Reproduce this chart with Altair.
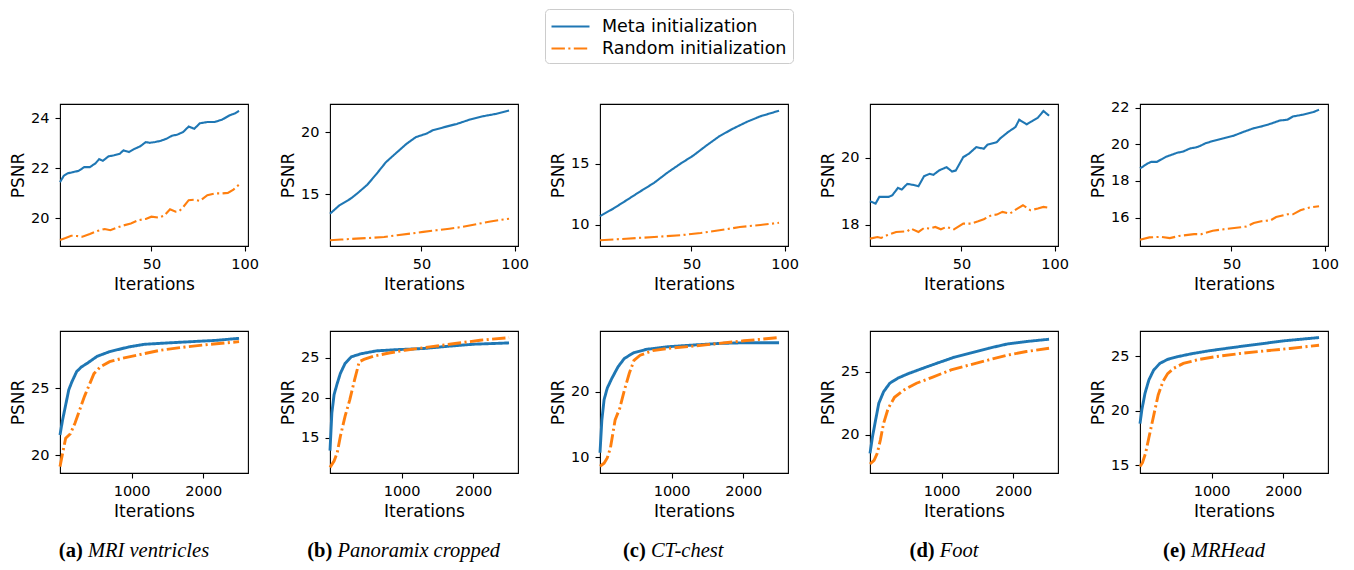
import altair as alt
import pandas as pd

SERIES = ["Meta initialization", "Random initialization"]
COLORS = ["#1f77b4", "#ff7f0e"]
DASHES = [[1, 0], [13.4, 3.4, 2.1, 3.4]]

# ---------------- top row: first 100 iterations ----------------
a1_meta_x = [1, 3, 5, 8, 11, 14, 17, 20, 22, 24, 27, 30, 33, 35, 38, 41, 44, 47, 49, 52, 55, 58, 61, 64, 67, 70, 73, 76, 80, 84, 88, 92, 95, 97]
a1_meta_y = [21.45, 21.7, 21.8, 21.85, 21.9, 22.05, 22.05, 22.2, 22.37, 22.3, 22.48, 22.52, 22.58, 22.72, 22.65, 22.78, 22.88, 23.05, 23.02, 23.05, 23.1, 23.18, 23.3, 23.35, 23.45, 23.67, 23.58, 23.8, 23.85, 23.85, 23.95, 24.12, 24.2, 24.3]
a1_rand_x = [1, 4, 7, 10, 13, 17, 21, 25, 28, 31, 35, 39, 43, 47, 50, 54, 57, 60, 63, 65, 67, 70, 73, 76, 80, 84, 88, 91, 94, 97]
a1_rand_y = [19.14, 19.22, 19.31, 19.3, 19.27, 19.38, 19.5, 19.58, 19.53, 19.62, 19.72, 19.8, 19.93, 19.98, 20.07, 20.03, 20.12, 20.37, 20.27, 20.3, 20.45, 20.73, 20.75, 20.7, 20.93, 21.0, 21.0, 21.02, 21.15, 21.35]

b1_meta_x = [1, 6, 12, 16, 21, 26, 31, 37, 42, 47, 53, 56, 62, 69, 76, 83, 90, 97]
b1_meta_y = [13.41, 14.08, 14.62, 15.1, 15.75, 16.64, 17.58, 18.39, 19.06, 19.6, 19.9, 20.15, 20.4, 20.67, 21.02, 21.29, 21.48, 21.75]
b1_rand_x = [1, 7, 15, 22, 30, 37, 44, 51, 58, 65, 72, 80, 87, 94, 97]
b1_rand_y = [11.26, 11.32, 11.4, 11.45, 11.53, 11.67, 11.8, 11.94, 12.07, 12.2, 12.34, 12.58, 12.78, 12.94, 13.0]

c1_meta_x = [1, 8, 15, 22, 30, 37, 44, 51, 58, 65, 72, 80, 87, 94, 97]
c1_meta_y = [10.71, 11.31, 11.99, 12.68, 13.44, 14.26, 15.0, 15.68, 16.5, 17.27, 17.87, 18.47, 18.91, 19.23, 19.37]
c1_rand_x = [1, 15, 30, 44, 55, 65, 76, 87, 94, 97]
c1_rand_y = [8.72, 8.85, 8.99, 9.13, 9.32, 9.54, 9.81, 9.98, 10.1, 10.16]

d1_meta_x = [1, 4, 6, 11, 13, 16, 18, 21, 24, 27, 30, 33, 35, 38, 42, 45, 47, 51, 54, 58, 62, 64, 69, 71, 75, 79, 81, 85, 88, 91, 94, 97]
d1_meta_y = [18.7, 18.63, 18.83, 18.83, 18.88, 19.1, 19.05, 19.22, 19.19, 19.15, 19.45, 19.52, 19.49, 19.62, 19.72, 19.59, 19.62, 20.02, 20.12, 20.32, 20.27, 20.39, 20.47, 20.59, 20.77, 20.92, 21.14, 21.0, 21.1, 21.2, 21.4, 21.26]
d1_rand_x = [1, 5, 7, 10, 15, 21, 23, 27, 30, 33, 36, 39, 42, 46, 51, 55, 59, 62, 66, 69, 72, 76, 80, 83, 87, 91, 94, 97]
d1_rand_y = [17.58, 17.63, 17.6, 17.68, 17.78, 17.8, 17.88, 17.78, 17.9, 17.88, 17.93, 17.86, 17.93, 17.86, 18.03, 18.03, 18.1, 18.16, 18.28, 18.3, 18.38, 18.33, 18.48, 18.58, 18.43, 18.48, 18.53, 18.5]

e1_meta_x = [1, 5, 7, 10, 15, 21, 24, 28, 31, 33, 36, 40, 46, 51, 56, 62, 66, 71, 76, 80, 83, 88, 94, 97]
e1_meta_y = [18.68, 18.95, 19.04, 19.04, 19.32, 19.54, 19.6, 19.78, 19.83, 19.9, 20.05, 20.18, 20.33, 20.46, 20.66, 20.88, 20.97, 21.12, 21.3, 21.34, 21.52, 21.61, 21.76, 21.89]
e1_rand_x = [1, 6, 12, 17, 22, 30, 34, 40, 47, 55, 58, 62, 66, 71, 74, 80, 83, 87, 92, 97]
e1_rand_y = [14.79, 14.92, 14.95, 14.88, 15.0, 15.1, 15.1, 15.28, 15.38, 15.47, 15.51, 15.7, 15.8, 15.85, 16.03, 16.18, 16.18, 16.4, 16.55, 16.62]

# ---------------- bottom row: full 2500 iterations ----------------
a2_meta_x = [0, 35, 79, 123, 167, 232, 298, 386, 518, 693, 956, 1175, 1482, 1833, 2184, 2500]
a2_meta_y = [21.5, 22.6, 23.75, 24.9, 25.5, 26.25, 26.6, 26.9, 27.4, 27.75, 28.1, 28.3, 28.4, 28.5, 28.6, 28.75]
a2_rand_x = [0, 35, 79, 145, 210, 276, 342, 408, 474, 561, 693, 868, 1088, 1395, 1746, 2096, 2500]
a2_rand_y = [19.13, 20.1, 21.25, 21.6, 22.4, 23.4, 24.4, 25.25, 26.1, 26.6, 27.0, 27.25, 27.5, 27.85, 28.1, 28.3, 28.5]

b2_meta_x = [0, 26, 57, 101, 145, 211, 298, 430, 649, 956, 1307, 1658, 2009, 2500]
b2_meta_y = [13.4, 18.1, 20.4, 21.8, 23.06, 24.3, 25.12, 25.5, 25.87, 26.03, 26.16, 26.45, 26.7, 26.86]
b2_rand_x = [0, 57, 101, 145, 211, 276, 342, 408, 474, 605, 825, 1044, 1395, 1746, 2096, 2500]
b2_rand_y = [11.3, 12.1, 13.14, 15.2, 17.7, 19.75, 22.2, 24.5, 24.8, 25.2, 25.6, 25.95, 26.36, 26.78, 27.2, 27.52]

c2_meta_x = [0, 26, 57, 101, 167, 254, 342, 474, 649, 956, 1307, 1658, 2009, 2500]
c2_meta_y = [10.7, 15.7, 18.8, 20.56, 22.1, 23.86, 25.13, 25.99, 26.5, 26.9, 27.16, 27.4, 27.5, 27.5]
c2_rand_x = [0, 57, 101, 145, 211, 276, 342, 408, 474, 561, 737, 956, 1307, 1658, 2009, 2500]
c2_rand_y = [8.63, 9.1, 9.9, 11.4, 15.7, 17.5, 20.3, 22.8, 24.8, 25.6, 26.3, 26.65, 27.0, 27.4, 27.8, 28.3]

d2_meta_x = [0, 35, 79, 123, 189, 276, 386, 518, 737, 956, 1175, 1395, 1658, 1921, 2184, 2500]
d2_meta_y = [18.55, 19.87, 21.2, 22.5, 23.4, 24.08, 24.47, 24.8, 25.26, 25.7, 26.13, 26.45, 26.84, 27.18, 27.37, 27.55]
d2_rand_x = [0, 57, 101, 145, 189, 254, 342, 474, 649, 868, 1132, 1395, 1658, 1921, 2184, 2500]
d2_rand_y = [17.71, 18.0, 18.55, 19.6, 20.9, 22.1, 22.97, 23.55, 24.08, 24.55, 25.13, 25.53, 25.92, 26.3, 26.58, 26.84]

e2_meta_x = [0, 26, 70, 123, 189, 276, 386, 518, 737, 956, 1307, 1658, 2009, 2500]
e2_meta_y = [18.82, 20.1, 21.6, 22.8, 23.7, 24.33, 24.7, 24.94, 25.24, 25.48, 25.8, 26.1, 26.4, 26.7]
e2_rand_x = [0, 35, 79, 123, 189, 254, 320, 386, 474, 605, 825, 1044, 1395, 1746, 2096, 2500]
e2_rand_y = [14.9, 15.24, 16.15, 17.5, 19.5, 21.45, 22.67, 23.4, 23.9, 24.33, 24.7, 24.94, 25.24, 25.48, 25.7, 26.0]

# axis domains / ticks
top_x_domain = [1, 101.8]
top_x_ticks = [50, 100]
bot_x_domain = [0, 2625]
bot_x_ticks = [1000, 2000]

top_y_domains = [[18.9, 24.57], [10.8, 22.28], [8.25, 19.92], [17.36, 21.61], [14.45, 22.2]]
top_y_ticks = [[20, 22, 24], [15, 20], [10, 15], [18, 20], [16, 18, 20, 22]]
bot_y_domains = [[18.65, 29.3], [10.6, 28.35], [7.6, 29.3], [17.0, 28.2], [14.3, 27.3]]
bot_y_ticks = [[20, 25], [15, 20, 25], [10, 20], [20, 25], [15, 20, 25]]

caption_labels = ["(a)", "(b)", "(c)", "(d)", "(e)"]
caption_names = ["MRI ventricles", "Panoramix cropped", "CT-chest", "Foot", "MRHead"]

# ---------------- layout / style ----------------
PW, PH = 188, 142
CAP_FS = 20.5
BOLD_W = {"(": 333, ")": 333, "a": 500, "b": 556, "c": 444, "d": 556, "e": 444, " ": 250}
ITAL_W = {"M": 833, "R": 611, "I": 333, " ": 250, "v": 444, "e": 444, "n": 500, "t": 278,
          "r": 389, "i": 278, "c": 444, "l": 278, "s": 389, "P": 611, "a": 500, "o": 500,
          "m": 722, "x": 444, "p": 500, "d": 500, "C": 667, "T": 556, "-": 333, "h": 500,
          "F": 611, "H": 722}


def text_w(s, table):
    return sum(table.get(ch, 500) for ch in s) * CAP_FS / 1000.0


LEGEND = alt.Legend(
    orient="none", legendX=485, legendY=-95, direction="vertical", title=None,
    symbolType="M-1.1,0H2.7", symbolSize=400, symbolStrokeWidth=2.1,
    labelFont="DejaVu Sans", labelFontSize=17.5, labelColor="black", labelLimit=400,
    labelOffset=28, rowPadding=2, padding=6, strokeColor="#cccccc", cornerRadius=4,
    fillColor="white",
)


def panel(mx, my, rx, ry, xdom, xticks, ydom, yticks, sw, caption=None):
    df = pd.DataFrame({
        "it": list(mx) + list(rx),
        "psnr": list(my) + list(ry),
        "series": [SERIES[0]] * len(mx) + [SERIES[1]] * len(rx),
    })
    lines = alt.Chart(df).mark_line(strokeWidth=sw).encode(
        x=alt.X("it:Q", scale=alt.Scale(domain=xdom, nice=False, zero=False),
                axis=alt.Axis(values=xticks, title="Iterations", format="d")),
        y=alt.Y("psnr:Q", scale=alt.Scale(domain=ydom, nice=False, zero=False),
                axis=alt.Axis(values=yticks, title="PSNR", format="d")),
        color=alt.Color("series:N", scale=alt.Scale(domain=SERIES, range=COLORS), legend=LEGEND),
        strokeDash=alt.StrokeDash("series:N", scale=alt.Scale(domain=SERIES, range=DASHES), legend=LEGEND),
    )
    if caption is None:
        return lines.properties(width=PW, height=PH)
    lab, name = caption
    w_lab = text_w(lab, BOLD_W)
    w_sp = text_w(" ", BOLD_W)
    w_name = text_w(name, ITAL_W)
    center = 74
    x0 = center - (w_lab + w_sp + w_name) / 2
    cap_y = 220
    t1 = alt.Chart(pd.DataFrame({"t": [lab]})).mark_text(
        font="Liberation Serif", fontSize=CAP_FS, fontWeight="bold", align="left",
        baseline="middle", color="black").encode(
        text="t:N", x=alt.value(x0), y=alt.value(cap_y))
    t2 = alt.Chart(pd.DataFrame({"t": [name]})).mark_text(
        font="Liberation Serif", fontSize=CAP_FS, fontStyle="italic", align="left",
        baseline="middle", color="black").encode(
        text="t:N", x=alt.value(x0 + w_lab + w_sp), y=alt.value(cap_y))
    return alt.layer(lines, t1, t2).properties(width=PW, height=PH)


top_series = [
    (a1_meta_x, a1_meta_y, a1_rand_x, a1_rand_y),
    (b1_meta_x, b1_meta_y, b1_rand_x, b1_rand_y),
    (c1_meta_x, c1_meta_y, c1_rand_x, c1_rand_y),
    (d1_meta_x, d1_meta_y, d1_rand_x, d1_rand_y),
    (e1_meta_x, e1_meta_y, e1_rand_x, e1_rand_y),
]
bot_series = [
    (a2_meta_x, a2_meta_y, a2_rand_x, a2_rand_y),
    (b2_meta_x, b2_meta_y, b2_rand_x, b2_rand_y),
    (c2_meta_x, c2_meta_y, c2_rand_x, c2_rand_y),
    (d2_meta_x, d2_meta_y, d2_rand_x, d2_rand_y),
    (e2_meta_x, e2_meta_y, e2_rand_x, e2_rand_y),
]

panels = []
for i, s in enumerate(top_series):
    panels.append(panel(*s, top_x_domain, top_x_ticks, top_y_domains[i], top_y_ticks[i], 2.1))
for i, s in enumerate(bot_series):
    panels.append(panel(*s, bot_x_domain, bot_x_ticks, bot_y_domains[i], bot_y_ticks[i], 2.9,
                        caption=(caption_labels[i], caption_names[i])))

chart = alt.concat(
    *panels, columns=5, spacing={"row": 85, "column": 82}, bounds="flush"
).resolve_scale(
    x="independent", y="independent", color="shared", strokeDash="shared"
).properties(
    padding=0, background="white"
).configure_view(
    stroke="black", strokeWidth=1.1
).configure_axis(
    domain=False, grid=False, tickColor="black", tickSize=5, tickWidth=1.1,
    labelFont="DejaVu Sans", labelFontSize=14.5, labelColor="black", labelPadding=6,
    titleFont="DejaVu Sans", titleFontSize=17, titleFontWeight="normal", titleColor="black",
    titlePadding=5.5, labelFlush=False, labelOverlap=False, labelBound=False,
).configure_axisY(
    titlePadding=3.5
)

chart.save("out.html", embed_options={"renderer": "svg", "actions": False})
